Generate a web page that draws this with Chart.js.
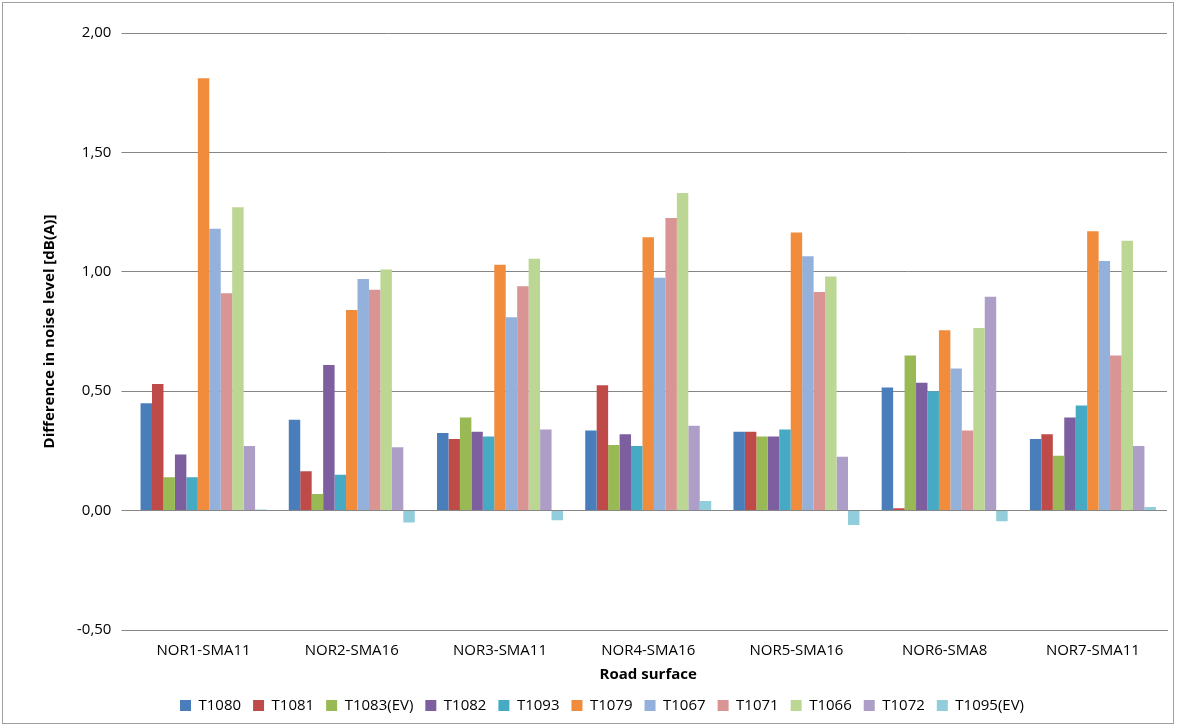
<!DOCTYPE html>
<html>
<head>
<meta charset="utf-8">
<script src="https://cdn.jsdelivr.net/npm/chart.js@4/dist/chart.umd.min.js"></script>
<style>
  body { margin: 0; background: #fff; }
  #wrap { position: absolute; left: 2px; top: 2px; width: 1172px; height: 722px; border: 1px solid #a0a0a0; box-sizing: border-box; }
</style>
</head>
<body>
<div id="wrap"><canvas id="myChart"></canvas></div>
<script>
const categories = ["NOR1-SMA11", "NOR2-SMA16", "NOR3-SMA11", "NOR4-SMA16", "NOR5-SMA16", "NOR6-SMA8", "NOR7-SMA11"];
const seriesNames = ["T1080", "T1081", "T1083(EV)", "T1082", "T1093", "T1079", "T1067", "T1071", "T1066", "T1072", "T1095(EV)"];
const seriesColors = ["#4A7EBB", "#BE4B48", "#98B954", "#7D5FA0", "#46AAC5", "#F08C3C", "#94B1DB", "#D99593", "#BCD694", "#AD9EC8", "#92CDDC"];
const T1080 = [0.45, 0.38, 0.325, 0.335, 0.33, 0.515, 0.30];
const T1081 = [0.53, 0.165, 0.30, 0.525, 0.33, 0.01, 0.32];
const T1083EV = [0.14, 0.07, 0.39, 0.275, 0.31, 0.65, 0.23];
const T1082 = [0.235, 0.61, 0.33, 0.32, 0.31, 0.535, 0.39];
const T1093 = [0.14, 0.15, 0.31, 0.27, 0.34, 0.50, 0.44];
const T1079 = [1.81, 0.84, 1.03, 1.145, 1.165, 0.755, 1.17];
const T1067 = [1.18, 0.97, 0.81, 0.975, 1.065, 0.595, 1.045];
const T1071 = [0.91, 0.925, 0.94, 1.225, 0.915, 0.335, 0.65];
const T1066 = [1.27, 1.01, 1.055, 1.33, 0.98, 0.765, 1.13];
const T1072 = [0.27, 0.265, 0.34, 0.355, 0.225, 0.895, 0.27];
const T1095EV = [0.005, -0.05, -0.04, 0.04, -0.06, -0.045, 0.015];
const seriesValues = [T1080, T1081, T1083EV, T1082, T1093, T1079, T1067, T1071, T1066, T1072, T1095EV];
const yTicks = [-0.5, 0, 0.5, 1, 1.5, 2];

const font = { family: "'Open Sans', 'Noto Sans', sans-serif", size: 15 };

new Chart(document.getElementById("myChart").getContext("2d"), {
  type: "bar",
  data: {
    labels: categories,
    datasets: seriesNames.map((name, i) => ({
      label: name,
      data: seriesValues[i],
      backgroundColor: seriesColors[i],
      categoryPercentage: 0.85,
      barPercentage: 1.0,
    })),
  },
  options: {
    responsive: true,
    maintainAspectRatio: false,
    animation: false,
    layout: { padding: { top: 30, right: 6, left: 34, bottom: 0 } },
    scales: {
      x: {
        grid: { display: false },
        border: { color: "#868686" },
        ticks: { color: "#000", font: font, padding: 4 },
        title: { display: true, text: "Road surface", color: "#000", font: { ...font, weight: "bold" }, padding: { top: 2, bottom: 2 } },
      },
      y: {
        min: -0.5, max: 2,
        afterBuildTicks: (axis) => { axis.ticks = yTicks.map((v) => ({ value: v })); },
        grid: { color: "#868686" },
        border: { display: false },
        ticks: {
          color: "#000", font: font, padding: 10,
          callback: (v) => v.toFixed(2).replace(".", ","),
        },
        title: { display: true, text: "Difference in noise level [dB(A)]", color: "#000", font: { ...font, weight: "bold" }, padding: { bottom: 8 } },
      },
    },
    plugins: {
      legend: {
        position: "bottom",
        labels: { boxWidth: 11, boxHeight: 11, color: "#000", font: font, padding: 12 },
      },
      tooltip: { enabled: false },
    },
  },
});
</script>
</body>
</html>
